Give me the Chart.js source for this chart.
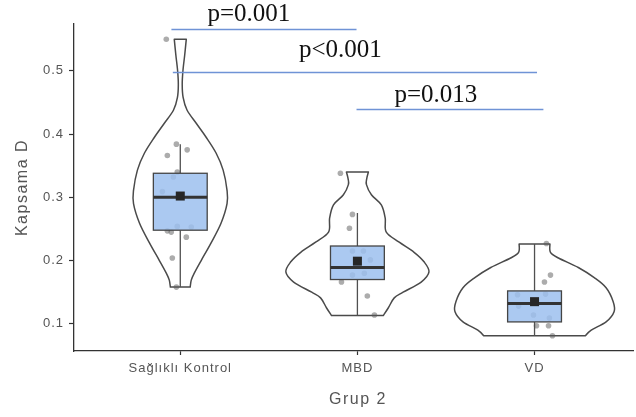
<!DOCTYPE html>
<html>
<head>
<meta charset="utf-8">
<script src="https://cdn.jsdelivr.net/npm/chart.js@4/dist/chart.umd.min.js"></script>
<style>
  html, body { margin: 0; padding: 0; background: #fff; }
  canvas { display: block; }
</style>
</head>
<body>
<canvas id="chart" width="636" height="417"></canvas>
<script>
// ---- categories and axis text ----
const groups = ['Sağlıklı Kontrol', 'MBD', 'VD'];
const yTicks = [0.1, 0.2, 0.3, 0.4, 0.5];
const xTitle = 'Grup 2';
const yTitle = 'Kapsama D';

// ---- individual observations, with horizontal jitter in category units ----
const kontrolValues = [0.55, 0.384, 0.375, 0.366, 0.34, 0.332, 0.309, 0.254, 0.253, 0.247, 0.245, 0.237, 0.204, 0.158];
const kontrolJitter = [-0.079, -0.022, 0.039, -0.073, -0.017, -0.039, -0.101, -0.017, 0.062, -0.073, -0.051, 0.034, -0.045, -0.022];
const mbdValues = [0.338, 0.273, 0.251, 0.215, 0.215, 0.201, 0.18, 0.177, 0.166, 0.144, 0.114];
const mbdJitter = [-0.096, -0.028, -0.045, -0.028, 0.034, 0.073, 0.039, -0.028, -0.090, 0.056, 0.096];
const vdValues = [0.227, 0.177, 0.166, 0.147, 0.146, 0.128, 0.114, 0.109, 0.097, 0.097, 0.081];
const vdJitter = [0.067, 0.090, 0.056, 0.062, -0.096, -0.090, -0.006, 0.084, 0.011, 0.079, 0.101];

// ---- box plot summaries per group ----
const boxMin    = [0.158, 0.113, 0.081];
const boxQ1     = [0.248, 0.170, 0.103];
const boxMedian = [0.300, 0.189, 0.132];
const boxQ3     = [0.338, 0.223, 0.152];
const boxMax    = [0.384, 0.275, 0.226];
const boxMean   = [0.302, 0.199, 0.135];

// ---- violin outlines: value levels and density half-widths (category units) ----
const kontrolDensityY = [0.158, 0.169, 0.18, 0.2, 0.228, 0.259, 0.29, 0.311, 0.343, 0.37, 0.395, 0.417, 0.438, 0.458, 0.478, 0.50, 0.525, 0.55];
const kontrolDensityW = [0.056, 0.062, 0.079, 0.118, 0.174, 0.230, 0.264, 0.264, 0.242, 0.202, 0.146, 0.090, 0.038, 0.016, 0.011, 0.015, 0.025, 0.034];
const mbdDensityY = [0.113, 0.125, 0.141, 0.15, 0.166, 0.182, 0.198, 0.213, 0.229, 0.245, 0.267, 0.288, 0.304, 0.32, 0.33, 0.34];
const mbdDensityW = [0.146, 0.174, 0.208, 0.258, 0.360, 0.404, 0.376, 0.320, 0.236, 0.163, 0.157, 0.135, 0.079, 0.051, 0.053, 0.062];
const vdDensityY = [0.081, 0.09, 0.103, 0.119, 0.135, 0.157, 0.173, 0.189, 0.204, 0.213, 0.226];
const vdDensityW = [0.287, 0.320, 0.404, 0.449, 0.444, 0.404, 0.337, 0.247, 0.135, 0.090, 0.087];

// ---- pairwise comparison brackets (data units) ----
const pairLabel  = ['p=0.001', 'p<0.001', 'p=0.013'];
const pairFrom   = [0.950, 0.958, 1.995];
const pairTo     = [1.995, 3.014, 3.050];
const pairY      = [0.566, 0.4985, 0.439];
const pairLabelX = [1.153, 1.670, 2.209];
const pairLabelY = [0.579, 0.522, 0.451];

const groupValues = [kontrolValues, mbdValues, vdValues];
const groupJitter = [kontrolJitter, mbdJitter, vdJitter];
const densityY = [kontrolDensityY, mbdDensityY, vdDensityY];
const densityW = [kontrolDensityW, mbdDensityW, vdDensityW];

const SANS = "'Liberation Sans', Arial, sans-serif";
const SERIF = "'Liberation Serif', 'Times New Roman', serif";
const BOX_HALF = 0.152;

const points = [];
groupValues.forEach((vals, g) => {
  vals.forEach((v, i) => points.push({ x: g + 1 + groupJitter[g][i], y: v }));
});

// Catmull-Rom spline through a list of pixel points
function spline(ctx, pts, start) {
  if (start) ctx.moveTo(pts[0].x, pts[0].y); else ctx.lineTo(pts[0].x, pts[0].y);
  for (let i = 0; i < pts.length - 1; i++) {
    const p0 = pts[Math.max(i - 1, 0)], p1 = pts[i], p2 = pts[i + 1], p3 = pts[Math.min(i + 2, pts.length - 1)];
    ctx.bezierCurveTo(
      p1.x + (p2.x - p0.x) / 6, p1.y + (p2.y - p0.y) / 6,
      p2.x - (p3.x - p1.x) / 6, p2.y - (p3.y - p1.y) / 6,
      p2.x, p2.y);
  }
}

const violinPlugin = {
  id: 'violins',
  beforeDraw(chart) {
    chart.ctx.letterSpacing = '1px';
  },
  beforeDatasetsDraw(chart) {
    const { ctx, scales: { x, y } } = chart;
    ctx.save();
    ctx.letterSpacing = '0px';
    densityY.forEach((levels, g) => {
      const c = g + 1;
      const right = levels.map((v, i) => ({ x: x.getPixelForValue(c + densityW[g][i]), y: y.getPixelForValue(v) }));
      const left = levels.map((v, i) => ({ x: x.getPixelForValue(c - densityW[g][i]), y: y.getPixelForValue(v) })).reverse();
      ctx.beginPath();
      spline(ctx, right, true);
      spline(ctx, left, false);
      ctx.closePath();
      ctx.fillStyle = '#ffffff';
      ctx.fill();
      ctx.lineWidth = 1.5;
      ctx.strokeStyle = '#4a4a4a';
      ctx.lineJoin = 'round';
      ctx.stroke();
    });
    ctx.restore();
  },
  afterDatasetsDraw(chart) {
    const { ctx, scales: { x, y } } = chart;
    ctx.save();
    groups.forEach((name, g) => {
      const c = g + 1;
      const cx = x.getPixelForValue(c);
      const l = x.getPixelForValue(c - BOX_HALF), r = x.getPixelForValue(c + BOX_HALF);
      const q1 = y.getPixelForValue(boxQ1[g]), q3 = y.getPixelForValue(boxQ3[g]);
      // whiskers
      ctx.strokeStyle = '#505050';
      ctx.lineWidth = 1.3;
      ctx.beginPath();
      ctx.moveTo(cx, y.getPixelForValue(boxMax[g])); ctx.lineTo(cx, q3);
      ctx.moveTo(cx, q1); ctx.lineTo(cx, y.getPixelForValue(boxMin[g]));
      ctx.stroke();
      // box
      ctx.fillStyle = 'rgba(156,191,238,0.85)';
      ctx.fillRect(l, q3, r - l, q1 - q3);
      ctx.strokeStyle = '#454545';
      ctx.lineWidth = 1.3;
      ctx.strokeRect(l, q3, r - l, q1 - q3);
      // median
      ctx.strokeStyle = '#333333';
      ctx.lineWidth = 3;
      ctx.beginPath();
      const m = y.getPixelForValue(boxMedian[g]);
      ctx.moveTo(l, m); ctx.lineTo(r, m);
      ctx.stroke();
      // mean
      const my = y.getPixelForValue(boxMean[g]);
      ctx.fillStyle = '#262626';
      ctx.fillRect(cx - 4.5, my - 4.5, 9, 9);
    });
    ctx.restore();
  },
  afterDraw(chart) {
    const { ctx, scales: { x, y }, chartArea } = chart;
    ctx.save();
    // comparison brackets
    ctx.strokeStyle = '#6f93d6';
    ctx.lineWidth = 1.4;
    pairLabel.forEach((lab, i) => {
      const py = Math.round(y.getPixelForValue(pairY[i])) + 0.5;
      ctx.beginPath();
      ctx.moveTo(x.getPixelForValue(pairFrom[i]), py);
      ctx.lineTo(x.getPixelForValue(pairTo[i]), py);
      ctx.stroke();
      ctx.letterSpacing = '0px';
      ctx.fillStyle = '#111111';
      ctx.font = '25px ' + SERIF;
      ctx.textAlign = 'left';
      ctx.textBaseline = 'alphabetic';
      ctx.fillText(lab, x.getPixelForValue(pairLabelX[i]), y.getPixelForValue(pairLabelY[i]));
    });
    // axis titles
    ctx.fillStyle = '#555555';
    ctx.font = '16px ' + SANS;
    ctx.letterSpacing = '1.5px';
    ctx.textAlign = 'center';
    ctx.textBaseline = 'alphabetic';
    ctx.fillText(xTitle, (chartArea.left + 644) / 2 - 1, 404);
    ctx.translate(27, (chartArea.top + chartArea.bottom) / 2);
    ctx.rotate(-Math.PI / 2);
    ctx.fillText(yTitle, 0, 0);
    ctx.restore();
  }
};

new Chart(document.getElementById('chart'), {
  type: 'scatter',
  data: {
    datasets: [{
      data: points,
      pointRadius: 2.8,
      pointHoverRadius: 2.8,
      pointBackgroundColor: 'rgba(90,90,90,0.5)',
      pointBorderWidth: 0
    }]
  },
  options: {
    responsive: false,
    animation: false,
    layout: { padding: { top: 24, right: 0, bottom: 0, left: 0 } },
    plugins: { legend: { display: false }, tooltip: { enabled: false } },
    scales: {
      x: {
        type: 'linear', min: 0.4, max: 3.557,
        afterBuildTicks: s => { s.ticks = groups.map((g, i) => ({ value: i + 1 })); },
        afterFit: s => { s.height = 66; },
        grid: { drawOnChartArea: false, tickLength: 4, tickColor: '#333', tickWidth: 1.2 },
        border: { color: '#333', width: 1.3 },
        ticks: {
          color: '#555', font: { family: SANS, size: 13 }, padding: 6,
          maxRotation: 0, autoSkip: false,
          callback: (v, i) => groups[i]
        }
      },
      y: {
        type: 'linear', min: 0.057, max: 0.574,
        afterBuildTicks: s => { s.ticks = yTicks.map(v => ({ value: v })); },
        afterFit: s => { s.width = 74; },
        grid: { drawOnChartArea: false, tickLength: 5, tickColor: '#333', tickWidth: 1.2 },
        border: { color: '#333', width: 1.3 },
        ticks: {
          color: '#555', font: { family: SANS, size: 13 }, padding: 5,
          callback: v => v.toFixed(1)
        }
      }
    }
  },
  plugins: [violinPlugin]
});
</script>
</body>
</html>
